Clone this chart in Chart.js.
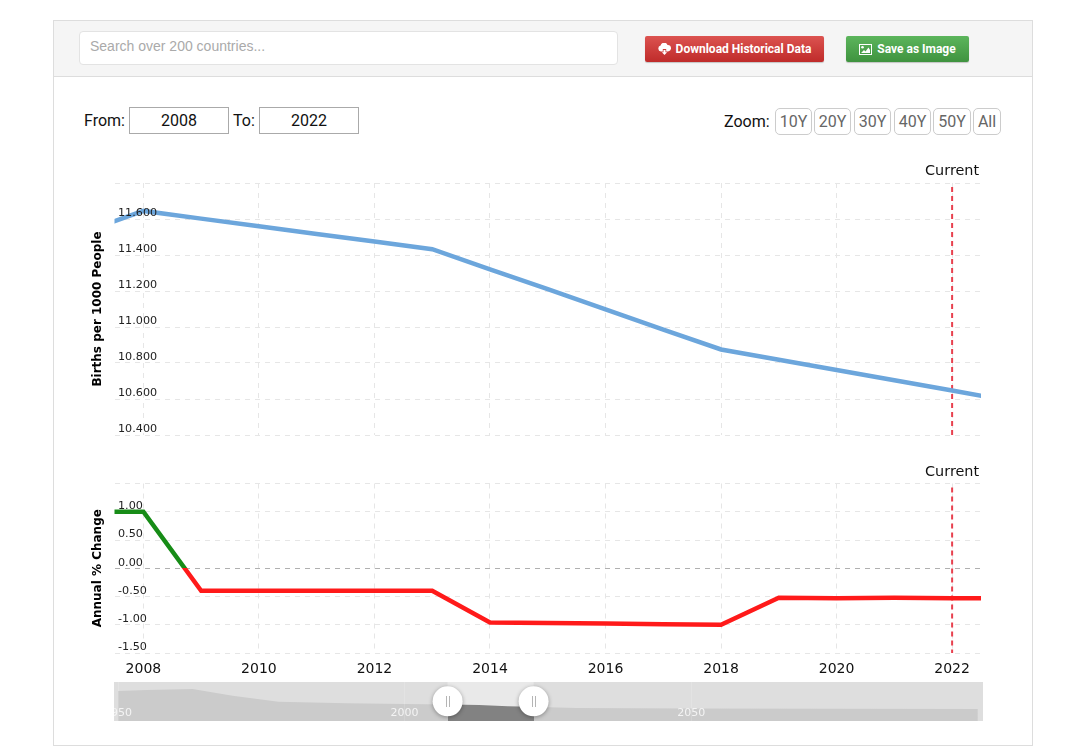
<!DOCTYPE html>
<html lang="en">
<head>
  <meta charset="UTF-8">
  <title>Birth Rate</title>
  <script src="https://cdn.jsdelivr.net/npm/chart.js"></script>
  <style>
    html, body { margin: 0; padding: 0; background: #fff; font-family: Roboto, sans-serif; color: #111; }
    body { width: 1067px; height: 756px; position: relative; overflow: hidden; }
    .frame { position: absolute; left: 53px; top: 20px; width: 978px; height: 724px; border: 1px solid #ddd; }
    .bar { position: absolute; left: 54px; top: 21px; width: 978px; height: 55px; background: #f5f5f5; border-bottom: 1px solid #ddd; }
    .search { position: absolute; left: 79px; top: 31px; width: 527px; height: 32px; padding-left: 10px; background: #fff; border: 1px solid #e3e3e3; border-radius: 4px; font: 14px/28px "Liberation Sans", sans-serif; color: #aaa; }
    .btn { position: absolute; top: 36px; height: 26px; border-radius: 2px; color: #fff; font: bold 12px/26px Roboto, sans-serif; display: flex; align-items: center; justify-content: center; gap: 5px; box-shadow: 0 1px 1px rgba(0,0,0,.2); }
    .red { left: 645px; width: 179px; background: linear-gradient(#dc5350, #bf2b2a); }
    .green { left: 846px; width: 123px; background: linear-gradient(#5cb55c, #3f933f); }
    .lbl { position: absolute; font-size: 16px; line-height: 20px; }
    .yr { position: absolute; top: 107px; width: 98px; height: 25px; border: 1px solid #aaa; text-align: center; font-size: 16px; line-height: 25px; }
    .zoom { position: absolute; top: 108px; height: 25px; border: 1px solid #ccc; border-radius: 5px; text-align: center; font-size: 16px; line-height: 25px; color: #666; box-sizing: content-box; }
    canvas { position: absolute; display: block; }
  </style>
</head>
<body>
  <div class="frame"></div>
  <div class="bar"></div>
  <div class="search">Search over 200 countries...</div>
  <div class="btn red">
    <svg width="13" height="12" viewBox="0 0 13 12"><path fill="#fff" d="M3 8.5a3 3 0 0 1-.4-5.9A3.6 3.6 0 0 1 9.5 2 3.2 3.2 0 0 1 10 8.5H8.2V6H4.8v2.5z"/><path fill="#fff" d="M5.5 7h2v2.2h1.6L6.5 12 3.9 9.2h1.6z"/></svg>
    <span>Download Historical Data</span>
  </div>
  <div class="btn green">
    <svg width="13" height="11" viewBox="0 0 13 11"><path fill="#fff" fill-rule="evenodd" d="M0 0h13v11H0zM1 1v9h11V1z"/><circle fill="#fff" cx="3.5" cy="3.3" r="1.3"/><path fill="#fff" d="M2 9l3-3 1.5 1.5L9.5 3.5 11 6v3z"/></svg>
    <span>Save as Image</span>
  </div>

  <div class="lbl" style="left:84px;top:111px">From:</div>
  <div class="yr" style="left:129px">2008</div>
  <div class="lbl" style="left:233px;top:111px">To:</div>
  <div class="yr" style="left:259px">2022</div>
  <div class="lbl" style="left:724px;top:112px">Zoom:</div>
  <div class="zoom" style="left:775px;width:35px">10Y</div>
  <div class="zoom" style="left:814px;width:35px">20Y</div>
  <div class="zoom" style="left:854px;width:35px">30Y</div>
  <div class="zoom" style="left:894px;width:35px">40Y</div>
  <div class="zoom" style="left:933px;width:36px">50Y</div>
  <div class="zoom" style="left:973px;width:26px">All</div>

  <canvas id="rateChart" width="905" height="276" style="left:80px;top:160px"></canvas>
  <canvas id="changeChart" width="905" height="222" style="left:80px;top:460px"></canvas>
  <canvas id="navChart" width="869" height="39" style="left:114px;top:682px"></canvas>

  <script>
    const years = [2007, 2008, 2009, 2010, 2011, 2012, 2013, 2014, 2015, 2016, 2017, 2018, 2019, 2020, 2021, 2022, 2023];
    const birthRate = [11.53, 11.645, 11.602, 11.56, 11.517, 11.475, 11.432, 11.32, 11.21, 11.098, 10.986, 10.875, 10.818, 10.761, 10.704, 10.647, 10.59];
    const annualChange = [1.00, 1.00, -0.40, -0.40, -0.40, -0.40, -0.40, -0.96, -0.97, -0.98, -0.99, -1.00, -0.52, -0.53, -0.52, -0.53, -0.53];

    const xTicks = [2008, 2010, 2012, 2014, 2016, 2018, 2020, 2022];
    const rateTicks = [10.4, 10.6, 10.8, 11.0, 11.2, 11.4, 11.6, 11.8];
    const changeTicks = [-1.5, -1.0, -0.5, 0, 0.5, 1.0, 1.5];

    const navYears = [1950, 1955, 1963, 1970, 1978, 1990, 2000, 2008, 2013, 2018, 2022, 2030, 2050, 2100];
    const navRate = [17.8, 18.2, 18.7, 15.6, 12.9, 12.2, 11.9, 11.64, 11.43, 10.87, 10.64, 10.0, 9.8, 9.6];
    const navTicks = [1950, 2000, 2050];

    const fromYear = 2007.5;
    const toYear = 2022.5;
    const currentYear = 2022;

    const FONT = 'DejaVu Sans, Verdana, sans-serif';
    const GRID = '#e6e6e6';

    // tick labels sit inside the plot, so they must not shrink the chart area
    function dropMargins(axis) {
      axis.paddingLeft = axis.paddingRight = axis.paddingTop = axis.paddingBottom = 0;
    }

    // caption above the plot, next to the current year marker
    const currentCaption = {
      id: 'currentCaption',
      afterDraw(chart) {
        const { ctx, scales, chartArea } = chart;
        ctx.save();
        ctx.font = '14.4px ' + FONT;
        ctx.fillStyle = '#111';
        ctx.textAlign = 'right';
        ctx.textBaseline = 'middle';
        ctx.fillText('Current', scales.x.getPixelForValue(currentYear) + 27, chartArea.top - 11.5);
        ctx.restore();
      }
    };

    function panelOptions(cfg) {
      return {
        responsive: false,
        animation: false,
        events: [],
        layout: { padding: cfg.padding },
        plugins: { legend: { display: false }, tooltip: { enabled: false } },
        elements: { point: { radius: 0 }, line: { tension: 0, borderJoinStyle: 'miter' } },
        scales: {
          x: {
            type: 'linear',
            min: fromYear,
            max: toYear,
            afterBuildTicks: axis => { axis.ticks = xTicks.map(value => ({ value })); },
            afterFit: axis => { axis.height = cfg.xHeight; dropMargins(axis); },
            border: { display: false, dash: [5, 5] },
            grid: { color: GRID, drawTicks: false },
            ticks: {
              display: cfg.showYears,
              autoSkip: false,
              maxRotation: 0,
              padding: 8,
              color: '#111',
              font: { family: FONT, size: 14 },
              callback: v => String(v)
            }
          },
          y: {
            min: cfg.ticks[0],
            max: cfg.ticks[cfg.ticks.length - 1],
            afterBuildTicks: axis => { axis.ticks = cfg.ticks.map(value => ({ value })); },
            afterFit: axis => { axis.width = 34.5; dropMargins(axis); },
            border: { display: false, dash: [5, 5] },
            grid: {
              drawTicks: false,
              color: c => (c.tick.value === 0 ? '#b0b0b0' : GRID)
            },
            title: {
              display: true,
              text: cfg.title,
              color: '#000',
              font: { family: FONT, size: 12, weight: 'bold' },
              padding: { top: 11, bottom: 0 }
            },
            ticks: {
              mirror: true,
              z: 1,
              padding: 3.5,
              labelOffset: -5.5,
              color: '#222',
              font: { family: FONT, size: 11.2 },
              callback: v => (v === cfg.ticks[cfg.ticks.length - 1] ? '' : v.toFixed(cfg.digits))
            }
          }
        }
      };
    }

    function currentLine(ticks) {
      return {
        data: [{ x: currentYear, y: ticks[ticks.length - 1] }, { x: currentYear, y: ticks[0] }],
        borderColor: '#e8404e',
        borderWidth: 2,
        borderDash: [5, 4],
        borderDashOffset: 5,
        clip: 0
      };
    }

    new Chart(document.getElementById('rateChart'), {
      type: 'line',
      data: {
        datasets: [
          { data: years.map((x, i) => ({ x, y: birthRate[i] })), borderColor: '#6ca6dc', borderWidth: 4.5, clip: 0 },
          currentLine(rateTicks)
        ]
      },
      options: panelOptions({
        padding: { top: 23, bottom: 1, right: 4 },
        xHeight: 0,
        showYears: false,
        ticks: rateTicks,
        digits: 3,
        title: 'Births per 1000 People'
      }),
      plugins: [currentCaption]
    });

    // green above zero, red below, split exactly where the scale crosses zero
    function changeColor(context) {
      const { chart } = context;
      const { ctx, chartArea, scales } = chart;
      if (!chartArea) return '#ff1a1a';
      const g = ctx.createLinearGradient(0, chartArea.top, 0, chartArea.bottom);
      const stop = (scales.y.getPixelForValue(0) - chartArea.top) / (chartArea.bottom - chartArea.top);
      g.addColorStop(0, '#178c17');
      g.addColorStop(stop, '#178c17');
      g.addColorStop(stop, '#ff1a1a');
      g.addColorStop(1, '#ff1a1a');
      return g;
    }

    new Chart(document.getElementById('changeChart'), {
      type: 'line',
      data: {
        datasets: [
          { data: years.map((x, i) => ({ x, y: annualChange[i] })), borderColor: changeColor, borderWidth: 4.5, clip: 0 },
          currentLine(changeTicks)
        ]
      },
      options: panelOptions({
        padding: { top: 23.5, bottom: 0, right: 4 },
        xHeight: 29,
        showYears: true,
        ticks: changeTicks,
        digits: 2,
        title: 'Annual % Change'
      }),
      plugins: [currentCaption]
    });

    // lighter band behind the selected range and the two round drag handles on top
    const rangeSelector = {
      id: 'rangeSelector',
      beforeDatasetsDraw(chart) {
        const { ctx, scales, chartArea } = chart;
        const a = scales.x.getPixelForValue(fromYear);
        const b = scales.x.getPixelForValue(toYear);
        ctx.fillStyle = '#e9e9e9';
        ctx.fillRect(a, chartArea.top, b - a, chartArea.bottom - chartArea.top);
      },
      afterDraw(chart) {
        const { ctx, scales } = chart;
        [fromYear, toYear].forEach(year => {
          const x = scales.x.getPixelForValue(year);
          ctx.save();
          ctx.shadowColor = 'rgba(0,0,0,.35)';
          ctx.shadowBlur = 4;
          ctx.shadowOffsetY = 1;
          ctx.fillStyle = '#fff';
          ctx.beginPath();
          ctx.arc(x, 19.3, 15, 0, Math.PI * 2);
          ctx.fill();
          ctx.restore();
          ctx.fillStyle = '#b5b5b5';
          ctx.fillRect(Math.round(x) - 2, 14, 1, 11);
          ctx.fillRect(Math.round(x) + 1, 14, 1, 11);
        });
      }
    };

    function navFill(context) {
      const { chart } = context;
      const { ctx, chartArea, scales } = chart;
      if (!chartArea) return '#cbcbcb';
      const w = chartArea.right - chartArea.left;
      const a = (scales.x.getPixelForValue(fromYear) - chartArea.left) / w;
      const b = (scales.x.getPixelForValue(toYear) - chartArea.left) / w;
      const g = ctx.createLinearGradient(chartArea.left, 0, chartArea.right, 0);
      g.addColorStop(0, '#cbcbcb');
      g.addColorStop(a, '#cbcbcb');
      g.addColorStop(a, '#828282');
      g.addColorStop(b, '#828282');
      g.addColorStop(b, '#cbcbcb');
      g.addColorStop(1, '#cbcbcb');
      return g;
    }

    new Chart(document.getElementById('navChart'), {
      type: 'line',
      data: {
        datasets: [{
          data: navYears.map((x, i) => ({ x, y: navRate[i] })),
          borderWidth: 0,
          backgroundColor: navFill,
          fill: 'origin'
        }]
      },
      options: {
        responsive: false,
        animation: false,
        events: [],
        layout: { padding: 0 },
        plugins: { legend: { display: false }, tooltip: { enabled: false } },
        elements: { point: { radius: 0 }, line: { tension: 0 } },
        scales: {
          x: {
            type: 'linear',
            min: 1949.3,
            max: 2100.9,
            afterBuildTicks: axis => { axis.ticks = navTicks.map(value => ({ value })); },
            afterFit: axis => { axis.height = 0; dropMargins(axis); },
            border: { display: false },
            grid: { color: 'rgba(255,255,255,.15)', drawTicks: false, z: 1 },
            ticks: {
              mirror: true,
              z: 2,
              padding: 1,
              autoSkip: false,
              maxRotation: 0,
              color: '#f4f4f4',
              font: { family: FONT, size: 11 },
              callback: v => String(v)
            }
          },
          y: { display: false, min: 4.14, max: 21.87 }
        }
      },
      plugins: [{
        id: 'navBackground',
        beforeDraw(chart) {
          const { ctx, width, height } = chart;
          ctx.fillStyle = '#dedede';
          ctx.fillRect(0, 0, width, height);
        }
      }, rangeSelector]
    });
  </script>
</body>
</html>
